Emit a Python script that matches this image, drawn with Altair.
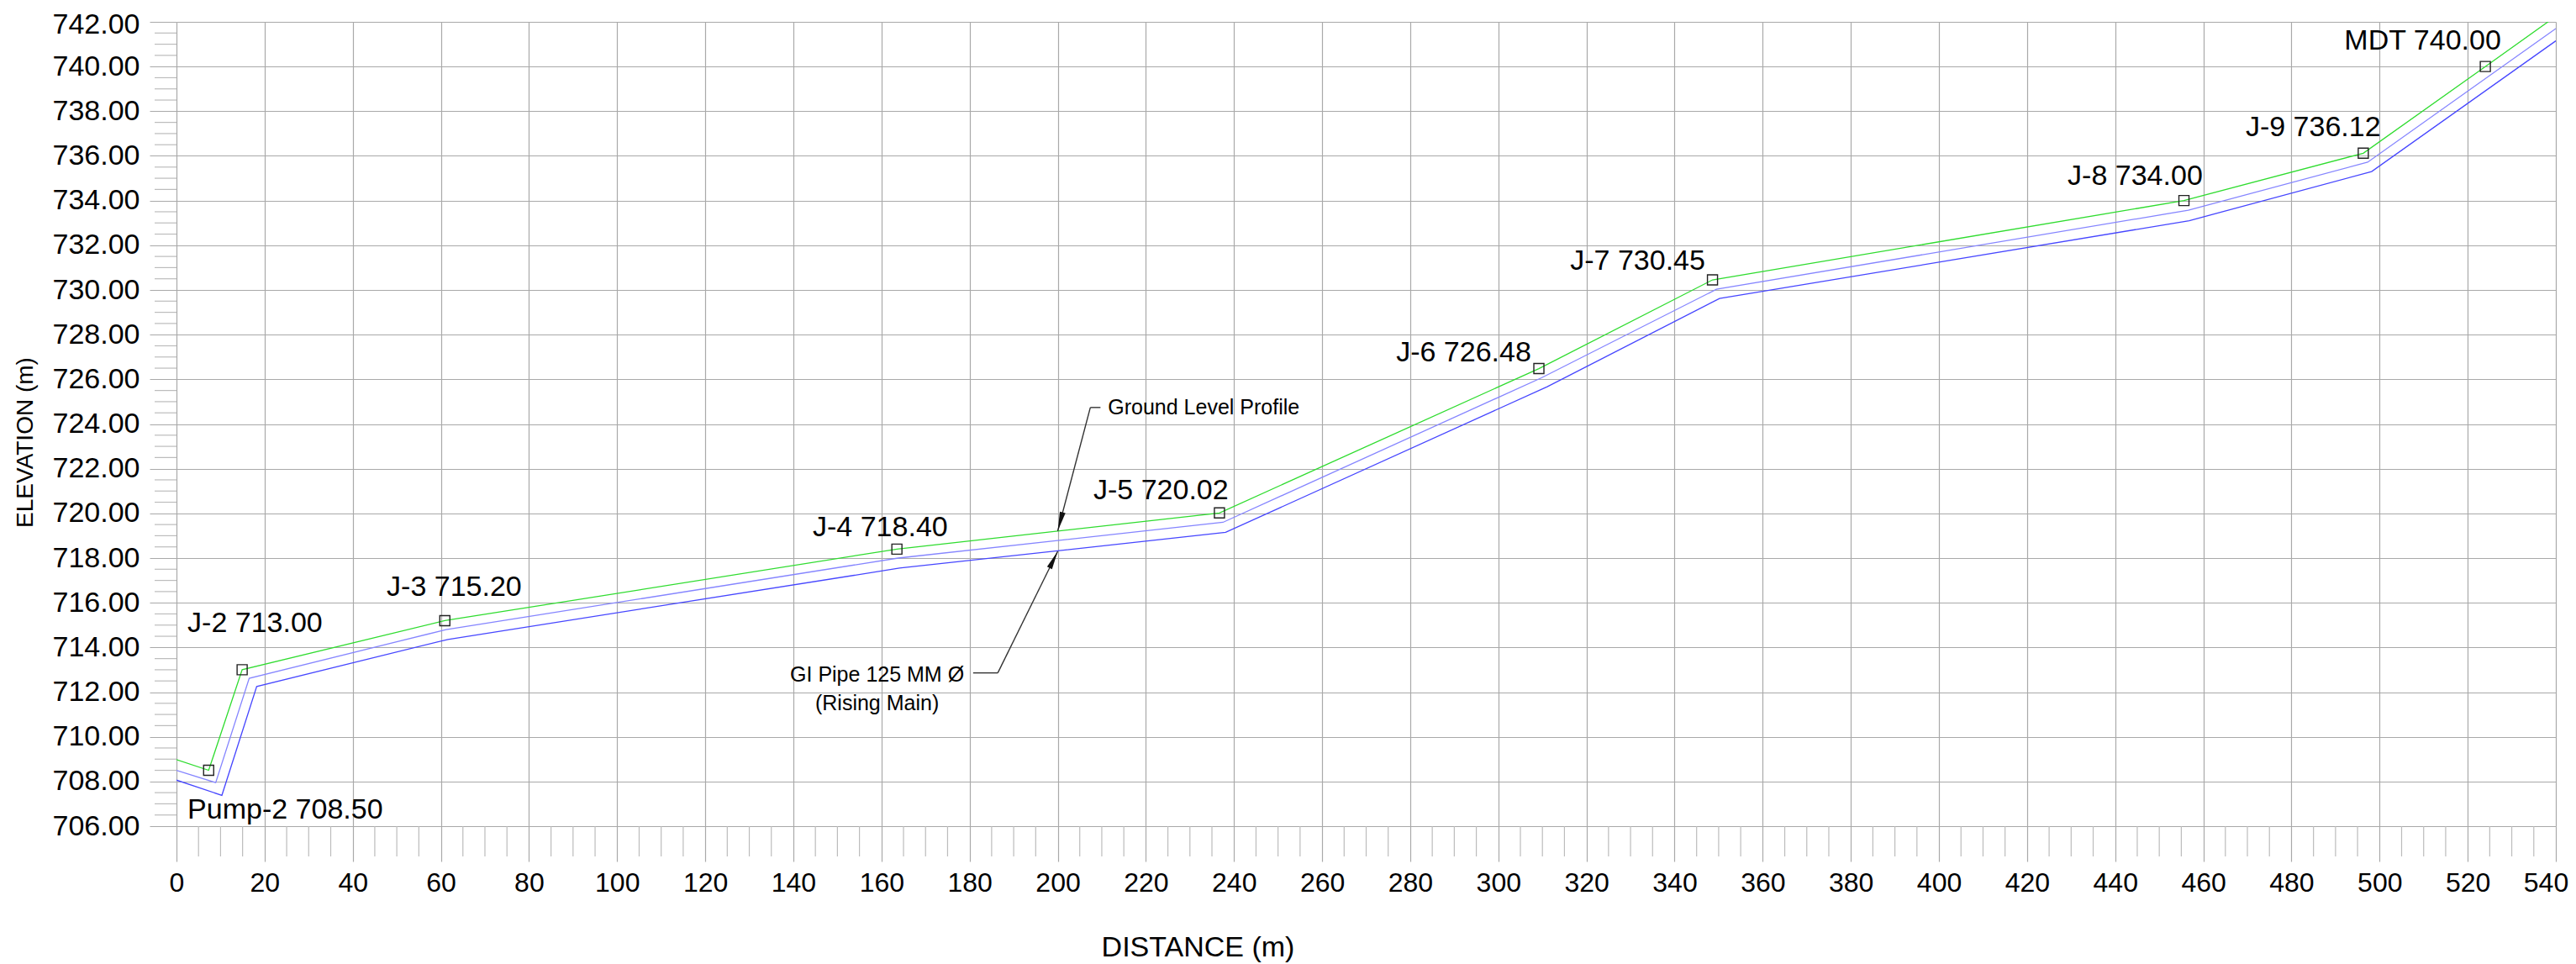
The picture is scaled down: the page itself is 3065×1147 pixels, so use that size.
import altair as alt
import pandas as pd

# ---------------- data ----------------
# Ground level profile (green line)
profile_distance = [0.0, 7.3, 14.9, 60.9, 163.5, 236.7, 309.2, 348.6, 455.6, 496.3, 524.0, 540.0]
profile_elevation = [708.98, 708.50, 713.00, 715.20, 718.40, 720.02, 726.48, 730.45, 734.00, 736.12, 740.00, 742.25]

# Rising main pipe, upper and lower edge (blue lines)
pipe_top_distance = [0.0, 8.9, 16.5, 61.2, 163.8, 237.5, 309.8, 349.5, 456.6, 497.3, 540.0]
pipe_top_elevation = [708.50, 707.95, 712.62, 714.80, 718.00, 719.60, 726.07, 730.03, 733.57, 735.72, 741.70]
pipe_bottom_distance = [0.0, 10.3, 18.2, 61.6, 164.1, 238.1, 311.1, 350.2, 456.8, 498.2, 540.0]
pipe_bottom_elevation = [708.06, 707.38, 712.25, 714.36, 717.55, 719.15, 725.67, 729.62, 733.10, 735.30, 741.15]

# Junctions
junction_names = ["Pump-2", "J-2", "J-3", "J-4", "J-5", "J-6", "J-7", "J-8", "J-9", "MDT"]
junction_distance = [7.3, 14.9, 60.9, 163.5, 236.7, 309.2, 348.6, 455.6, 496.3, 524.0]
junction_elevation = [708.50, 713.00, 715.20, 718.40, 720.02, 726.48, 730.45, 734.00, 736.12, 740.00]
# label anchors (left edge / text baseline, in data units)
label_distance = [2.5, 2.5, 47.7, 144.4, 208.1, 276.8, 316.3, 429.2, 469.6, 492.0]
label_elevation = [706.35, 714.70, 716.32, 718.98, 720.65, 726.79, 730.89, 734.69, 736.90, 740.75]

# Annotations
ann_glp_text = ["Ground Level Profile"]
ann_glp_distance = [211.4]
ann_glp_elevation = [724.43]
ann_pipe_text = ["GI Pipe 125 MM Ø", "(Rising Main)"]
ann_pipe_distance = [159.0, 159.0]
ann_pipe_elevation = [712.48, 711.19]

# leader lines (start -> end)
leader_x = [209.7, 207.4, 180.8, 186.4]
leader_y = [724.74, 724.74, 712.86, 712.86]
leader_x2 = [207.4, 200.0, 186.4, 200.0]
leader_y2 = [724.74, 719.21, 712.86, 718.30]
arrow_glp_x = [200.0]
arrow_glp_y = [719.21]
arrow_pipe_x = [200.0]
arrow_pipe_y = [718.30]

# axis ticks
x_major = list(range(0, 541, 20))
x_minor = [v for v in range(0, 541, 5) if v % 20 != 0]
y_major = list(range(706, 743, 2))
y_minor = [706 + 0.5 * k for k in range(73) if (706 + 0.5 * k) % 2 != 0]

# ---------------- styling ----------------
FONT = "Liberation Sans"
GRID = "#a9a9a9"
MINOR = "#bcbcbc"
W, H = 2831, 957

xscale = alt.Scale(domain=[0, 540], nice=False, zero=False)
yscale = alt.Scale(domain=[706, 742], nice=False, zero=False)

xaxis = alt.Axis(
    values=x_major, grid=True, gridColor=GRID, gridWidth=1.2,
    tickColor=GRID, tickWidth=1.2, tickSize=42, domain=False,
    labelFont=FONT, labelFontSize=32, labelColor="black", labelPadding=10,
    labelOverlap=False, labelFlush=False, labelBound=False, format="d",
    labelOffset={"condition": {"test": "datum.value == 540", "value": -12}, "value": 0},
    title="DISTANCE (m)", titleFont=FONT, titleFontSize=34, titleFontWeight="normal",
    titleColor="black", titleX=1215, titleY=154, titleAlign="center",
    titleBaseline="alphabetic",
)
yaxis = alt.Axis(
    values=y_major, grid=True, gridColor=GRID, gridWidth=1.2,
    tickColor=GRID, tickWidth=1.2, tickSize=32, domain=False,
    labelFont=FONT, labelFontSize=34, labelColor="black", labelPadding=12,
    labelOverlap=False, labelFlush=False, labelBound=False, format=".2f",
    labelOffset={"condition": {"test": "datum.value == 742", "value": 3}, "value": 0},
    title="ELEVATION (m)", titleFont=FONT, titleFontSize=28, titleFontWeight="normal",
    titleColor="black", titleX=-180, titleY=500, titleAlign="center",
    titleBaseline="middle", titleAngle=270,
)


def X(f):
    return alt.X(f, type="quantitative", scale=xscale, axis=xaxis)


def Y(f):
    return alt.Y(f, type="quantitative", scale=yscale, axis=yaxis)


profile = pd.DataFrame({"d": profile_distance, "e": profile_elevation})
ptop = pd.DataFrame({"d": pipe_top_distance, "e": pipe_top_elevation})
pbot = pd.DataFrame({"d": pipe_bottom_distance, "e": pipe_bottom_elevation})
junc = pd.DataFrame({"d": junction_distance, "e": junction_elevation})
labels = pd.DataFrame({
    "d": label_distance, "e": label_elevation,
    "t": [f"{n} {v:.2f}" for n, v in zip(junction_names, junction_elevation)],
})
glp = pd.DataFrame({"d": ann_glp_distance, "e": ann_glp_elevation, "t": ann_glp_text})
pipe_txt = pd.DataFrame({"d": ann_pipe_distance, "e": ann_pipe_elevation, "t": ann_pipe_text})
leaders = pd.DataFrame({"d": leader_x, "e": leader_y, "d2": leader_x2, "e2": leader_y2})
arr1 = pd.DataFrame({"d": arrow_glp_x, "e": arrow_glp_y})
arr2 = pd.DataFrame({"d": arrow_pipe_x, "e": arrow_pipe_y})
xmin = pd.DataFrame({"d": x_minor})
ymin = pd.DataFrame({"e": y_minor})

# base layer carrying axes
base = alt.Chart(profile).mark_line(opacity=0).encode(x=X("d"), y=Y("e"))

x_minor_ticks = alt.Chart(xmin).mark_rule(color=MINOR, strokeWidth=1.2).encode(
    x=X("d"), y=alt.value(H), y2=alt.value(H + 36)
)
y_minor_ticks = alt.Chart(ymin).mark_rule(color=MINOR, strokeWidth=1.2).encode(
    y=Y("e"), x=alt.value(-26), x2=alt.value(0)
)

line_bot = alt.Chart(pbot).mark_line(color="#4646ff", strokeWidth=1.3, clip=True).encode(x=X("d"), y=Y("e"))
line_top = alt.Chart(ptop).mark_line(color="#8585ff", strokeWidth=1.3, clip=True).encode(x=X("d"), y=Y("e"))
line_gl = alt.Chart(profile).mark_line(color="#2fdc2f", strokeWidth=1.3, clip=True).encode(x=X("d"), y=Y("e"))

squares = alt.Chart(junc).mark_point(
    shape="square", size=144, filled=False, color="#222222", strokeWidth=1.4, opacity=1
).encode(x=X("d"), y=Y("e"))

leader_lines = alt.Chart(leaders).mark_rule(color="#333333", strokeWidth=1.4).encode(
    x=X("d"), y=Y("e"), x2="d2", y2="e2"
)
arrow_down = alt.Chart(arr1).mark_point(
    shape="M0,0L-0.3,-2L0.3,-2Z", size=529, filled=True, color="#111111", opacity=1, angle=14.8
).encode(x=X("d"), y=Y("e"))
arrow_up = alt.Chart(arr2).mark_point(
    shape="M0,0L-0.3,2L0.3,2Z", size=484, filled=True, color="#111111", opacity=1, angle=26.3
).encode(x=X("d"), y=Y("e"))

junction_text = alt.Chart(labels).mark_text(
    align="left", baseline="alphabetic", font=FONT, fontSize=34, color="black"
).encode(x=X("d"), y=Y("e"), text="t")
glp_text = alt.Chart(glp).mark_text(
    align="left", baseline="alphabetic", font=FONT, fontSize=25, color="black"
).encode(x=X("d"), y=Y("e"), text="t")
pipe_text = alt.Chart(pipe_txt).mark_text(
    align="center", baseline="alphabetic", font=FONT, fontSize=25, color="black"
).encode(x=X("d"), y=Y("e"), text="t")

chart = alt.layer(
    base, x_minor_ticks, y_minor_ticks, line_bot, line_top, line_gl, squares,
    leader_lines, arrow_down, arrow_up, junction_text, glp_text, pipe_text,
).properties(
    width=W, height=H,
    autosize=alt.AutoSizeParams(type="none"),
    padding={"left": 202, "top": 18, "right": 16, "bottom": 164},
    background="white",
).configure_view(stroke=None)

chart.save("out.html", embed_options={"renderer": "svg", "actions": False})
